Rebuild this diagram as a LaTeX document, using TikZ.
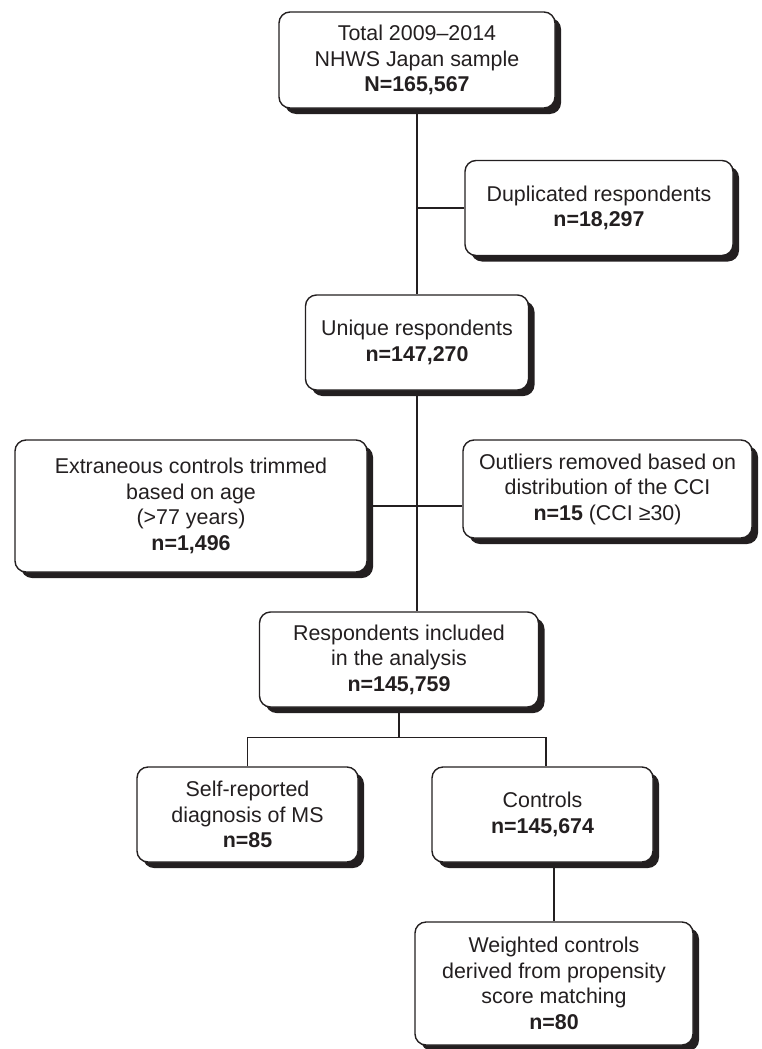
\documentclass[tikz,border=0pt]{standalone}
\usepackage{fontspec}
\setmainfont{Liberation Sans}
\usetikzlibrary{shadows,calc}
\definecolor{ink}{RGB}{35,31,32}
\begin{document}
\begin{tikzpicture}[x=1pt,y=-1pt,
  flowbox/.style={rectangle, rounded corners=11pt, draw=ink, line width=1.4pt, fill=white,
    inner sep=0pt, align=center, text=ink,
    font=\fontsize{21.4}{25.5}\selectfont,
    drop shadow={shadow xshift=6pt, shadow yshift=-6pt, fill=ink, opacity=1}},
  link/.style={draw=ink, line width=1.2pt}]
\useasboundingbox (0,0) rectangle (761,1049);
\node[flowbox, minimum width=276pt, minimum height=96pt] (tot) at (417,60)
  {Total 2009--2014\\NHWS Japan sample\\\textbf{N=165,567}};
\node[flowbox, minimum width=268pt, minimum height=95pt] (dup) at (599,208)
  {Duplicated respondents\\\textbf{n=18,297}};
\node[flowbox, minimum width=223pt, minimum height=95pt] (uni) at (417,342.5)
  {Unique respondents\\\textbf{n=147,270}};
\node[flowbox, minimum width=352pt, minimum height=132pt] (ext) at (191,506)
  {Extraneous controls trimmed\\based on age\\(>77 years)\\\textbf{n=1,496}};
\node[flowbox, minimum width=289pt, minimum height=98pt] (out) at (607.5,489)
  {Outliers removed based on\\distribution of the CCI\\\textbf{n=15} (CCI ≥30)};
\node[flowbox, minimum width=279pt, minimum height=95pt] (res) at (399,659.5)
  {Respondents included\\in the analysis\\\textbf{n=145,759}};
\node[flowbox, minimum width=221pt, minimum height=95pt] (self) at (247.5,814.5)
  {Self-reported\\diagnosis of MS\\\textbf{n=85}};
\node[flowbox, minimum width=221pt, minimum height=95pt] (con) at (542.5,814.5)
  {Controls\\\textbf{n=145,674}};
\node[flowbox, minimum width=278pt, minimum height=123pt] (wei) at (554,983.5)
  {Weighted controls\\derived from propensity\\score matching\\\textbf{n=80}};
% connectors
\path[link] (tot.south) -- (uni.north);
\path[link] (dup.west) -- (dup.west -| tot.south);
\path[link] (uni.south) -- (uni.south |- res.north);
\path[link] (ext.east) -- (ext.east -| out.west);
\path[link] (res.south) -- ++(0,30) coordinate (bj);
\path[link] (self.north) |- (bj) -| ([xshift=3.5pt]con.north);
\path[link] (con.south -| wei.north) -- (wei.north);
\end{tikzpicture}
\end{document}
